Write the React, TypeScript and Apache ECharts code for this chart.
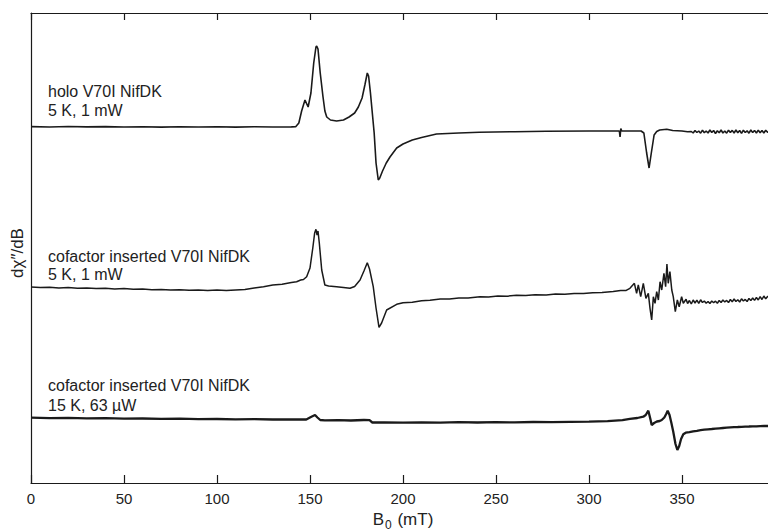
import React, { useEffect, useRef } from "react";
import * as echarts from "echarts";

// x: B0 (mT); y: signal (arbitrary units, offset per trace)
const xTicks = [0, 50, 100, 150, 200, 250, 300, 350];

const holoTrace: number[][] = [
  [0, 356.4], [10, 356], [20, 356.5], [30, 356.1], [40, 356.4], [50, 356], [60, 356.3], [70, 355.9], [80, 356.3], [90, 356],
  [100, 356.2], [110, 355.9], [120, 356.3], [130, 356], [140, 356.1], [142.3, 356.3],
  [144, 360], [145.5, 372], [147.3, 383], [149, 376], [150.5, 390], [152, 420], [153.2, 436], [153.6, 437], [154.3, 434],
  [155.5, 410], [157, 386], [158, 372], [159, 366], [161, 363], [164.3, 362], [168, 363], [171, 366], [174, 370], [176, 376],
  [178, 385], [179.5, 398], [180.8, 410], [181.5, 407], [182.5, 390], [183.5, 370], [184.5, 350], [185.5, 320], [186.7, 303],
  [187.5, 305], [189, 312], [191, 320], [193, 326], [196.6, 335], [200, 339], [205, 343], [210, 345.5], [218, 349], [230, 350],
  [241, 350.7], [260, 351.3], [277, 351.7], [300, 352], [313, 352], [316.3, 352], [316.7, 346], [317.1, 354.5], [317.6, 352],
  [320, 352], [328, 352], [329.5, 350], [331, 330], [332.3, 315], [333.5, 330], [335, 348], [336.4, 351.5], [338, 353],
  [341.8, 353.7], [345, 352.5], [350, 352], [353, 351.2],
  [355, 351.5], [356, 350], [357, 352.5], [358, 350.5], [359, 352], [360, 349.8], [361, 352.8], [362, 350.3], [363, 352],
  [364, 350], [365, 353], [366, 350.5], [367, 352.5], [368, 349.5], [369, 352.3], [370, 350.2], [371, 353], [372, 350],
  [373, 352], [374, 349.8], [375, 352.8], [376, 350.5], [377, 352.6], [378, 350], [379, 353], [380, 350.3], [381, 352.5],
  [382, 349.6], [383, 352.8], [384, 350.5], [385, 352.2], [386, 349.8], [387, 353], [388, 350.4], [389, 352.6], [390, 350],
  [391, 352.9], [392, 350.2], [393, 352.5], [394, 350], [395, 352.7], [396, 350.8], [400, 351.5],
];

const insertedTrace5K: number[][] = [
  [0, 196], [5, 195.5], [10, 195.8], [15, 195.1], [20, 195.4], [25, 194.8], [30, 195.1], [35, 194.5], [40, 194.8], [45, 194.1],
  [50, 194.4], [55, 193.7], [60, 194], [65, 193.3], [70, 193.6], [75, 193], [80, 193.3], [85, 192.8], [90, 193.1], [95, 192.6],
  [100, 192.9], [105, 192.5], [110, 193.1], [115, 193.4], [120, 195], [125, 196.3], [130, 197.9], [135, 198.8], [140, 200.5],
  [142.8, 201.3], [145, 203], [146.5, 203.5], [148.2, 206.3], [150, 215], [151.5, 235], [152.5, 250], [153.2, 253.7],
  [153.8, 248], [154.3, 252], [155, 240], [156.3, 213], [158, 198], [160, 197], [164.3, 196.3], [168, 195.5], [171.5, 194.7],
  [174, 196.5], [176.9, 203], [179, 212], [180.8, 220.3], [182, 214], [184, 196.3], [185.5, 175], [187.1, 155.7], [188.5, 160],
  [191.2, 173], [196.6, 178.7], [200, 180.2], [205, 180.8], [210, 182.2], [214.5, 182.8], [220, 184], [225, 184], [230, 185.1],
  [235, 185], [241.4, 186.3], [246, 186], [251, 187], [256, 186.8], [261, 187.7], [266, 187.4], [271, 188.2], [277, 188],
  [282, 189], [287, 188.7], [292, 189.4], [297, 189.4], [302, 190.3], [307, 190.4], [313, 191.4], [317, 192.5], [320, 192.6],
  [322, 194.7],
  [324.4, 199.7], [325.6, 189.7], [326.5, 198], [327.8, 186.3], [329.2, 199.7], [330.6, 184.7], [331.9, 189.7], [332.8, 174.7],
  [333.7, 163], [334.6, 186.3], [335.5, 179.7], [336.4, 191.3], [337.3, 183], [338.2, 201.3], [339.1, 193], [340.3, 209.7],
  [341.2, 196.3], [341.9, 219], [342.6, 199.7], [343.5, 211.3], [344.5, 193], [345.3, 186.3], [346.4, 171.3], [347.5, 183],
  [348.5, 176.3], [349.8, 186.3], [350.7, 179.7], [352.2, 183.7],
  [353, 179.5], [354, 182.5], [355, 179], [356, 183], [357, 180], [358, 182.8], [359, 179.6], [360, 183.2], [361, 180.5],
  [362, 182], [363, 179.8], [364, 181.5], [365, 179.5], [366, 182], [367, 180.3], [368, 181.8], [369, 179.8], [370, 182.5],
  [371, 180.5], [372, 183], [373, 181], [374, 182.6], [375, 180.4], [376, 183.5], [377, 181.2], [378, 184], [379, 181.5],
  [380, 183.2], [381, 181], [382, 184.2], [383, 182], [384, 183.6], [385, 181.4], [386, 184.6], [387, 182.4], [388, 185],
  [389, 182.6], [390, 185.5], [391, 183], [392, 186.3], [393, 183.5], [394, 187], [395, 184.2], [396, 186.5], [400, 187],
];

const insertedTrace15K: number[][] = [
  [0, 65.3], [10, 64.9], [20, 65.1], [30, 64.6], [40, 64.8], [50, 64.4], [60, 64.5], [70, 64.1], [80, 64.3], [90, 63.9],
  [100, 64], [110, 63.7], [120, 63.9], [130, 63.5], [140, 63.7], [148, 63.5], [150.5, 66], [152.7, 68], [154, 65.5],
  [155.5, 63], [158, 62.6], [165, 62.9], [172, 62.5], [179, 63], [182, 62.8], [183.5, 60.5], [190, 60.6], [200, 60.3],
  [210, 60.7], [220, 60.4], [230, 60.8], [240, 60.5], [250, 60.9], [260, 60.6], [270, 61], [280, 60.8], [290, 61.2],
  [300, 61.3], [310, 61.8], [318, 62.8], [322, 64.2], [326, 65], [329.2, 66.3], [330.5, 68], [331.9, 72.3], [333, 64],
  [333.7, 58], [335, 60], [336.5, 61.5], [338, 62], [339.1, 63], [340.5, 65.5], [341.5, 69], [342.3, 72.3], [343.3, 68],
  [344.3, 60], [345.3, 51.3], [346.5, 39], [347.5, 33], [348.5, 37], [349.5, 44], [350.7, 48.7], [352, 50.3], [354, 50.8],
  [356, 51.6], [358, 52.2], [360, 52.9], [362, 53.3], [364, 53.7], [366, 54], [368, 54.4], [370, 54.7], [372, 55],
  [374, 55.3], [376, 55.6], [378, 55.9], [380, 56], [382, 56.2], [384, 56.4], [386, 56.5], [388, 56.7], [390, 56.7],
  [392, 56.9], [394, 57], [396, 57], [400, 57.1],
];

const traceLabels = [
  ["holo V70I NifDK", "5 K, 1 mW"],
  ["cofactor inserted V70I NifDK", "5 K, 1 mW"],
  ["cofactor inserted V70I NifDK", "15 K, 63 µW"],
];

const FONT = "'Liberation Sans', Arial, Helvetica, sans-serif";
const INK = "#1a1a1a";

export default function App() {
  const ref = useRef<HTMLDivElement>(null);
  useEffect(() => {
    if (!ref.current) return;
    const chart = echarts.init(ref.current, undefined, { renderer: "svg" });
    const labelY = [
      [92.5, 111.5],
      [257, 275],
      [386, 406],
    ];
    const graphics: any[] = [];
    traceLabels.forEach((pair, i) => {
      pair.forEach((t, j) => {
        graphics.push({
          type: "text",
          left: 48,
          top: labelY[i][j] - 9,
          style: { text: t, fill: "#222", font: `16px ${FONT}` },
        });
      });
    });
    graphics.push({
      type: "text",
      x: 17,
      y: 253,
      rotation: Math.PI / 2,
      style: {
        text: "dχ″/dB",
        fill: "#222",
        font: `17px ${FONT}`,
        align: "center",
        verticalAlign: "middle",
      },
    });

    const lineSeries = (data: number[][], width: number) => ({
      type: "line",
      data,
      showSymbol: false,
      symbol: "none",
      lineStyle: { color: INK, width },
      itemStyle: { color: INK },
      clip: true,
    });

    chart.setOption({
      animation: false,
      backgroundColor: "#fff",
      grid: {
        left: 31,
        top: 13,
        width: 744,
        height: 470,
        containLabel: false,
        outerBoundsMode: "none",
      },
      xAxis: [
        {
          type: "value",
          min: 0,
          max: 400,
          interval: 50,
          position: "bottom",
          axisLine: { show: true, lineStyle: { color: INK, width: 1.2 } },
          axisTick: { show: true, inside: true, length: 8, lineStyle: { color: INK, width: 1.2 } },
          axisLabel: {
            show: true,
            margin: 8,
            color: "#222",
            fontSize: 15,
            fontFamily: FONT,
            showMaxLabel: false,
          },
          splitLine: { show: false },
          name: "{b|B}{s|0}{b| (mT)}",
          nameLocation: "middle",
          nameGap: 28,
          nameTextStyle: {
            rich: {
              b: { fontSize: 17, fontFamily: FONT, color: "#222", lineHeight: 19, verticalAlign: "top" },
              s: { fontSize: 12, fontFamily: FONT, color: "#222", lineHeight: 12, verticalAlign: "top", padding: [8, 1, 0, 1] },
            },
          },
        },
        {
          type: "value",
          min: 0,
          max: 400,
          interval: 50,
          position: "top",
          axisLine: { show: true, lineStyle: { color: INK, width: 1.2 } },
          axisTick: { show: true, inside: true, length: 7, lineStyle: { color: INK, width: 1.2 } },
          axisLabel: { show: false },
          splitLine: { show: false },
        },
      ],
      yAxis: {
        type: "value",
        min: 0,
        max: 470,
        axisLine: { show: true, lineStyle: { color: INK, width: 1.2 } },
        axisTick: { show: false },
        axisLabel: { show: false },
        splitLine: { show: false },
      },
      series: [
        lineSeries(holoTrace, 1.6),
        lineSeries(insertedTrace5K, 1.5),
        lineSeries(insertedTrace15K, 2.3),
      ],
      graphic: graphics,
    });
    return () => chart.dispose();
  }, []);
  return (
    <div
      ref={ref}
      style={{ position: "absolute", left: 0, top: 0, width: 768, height: 531, background: "#fff" }}
    />
  );
}
